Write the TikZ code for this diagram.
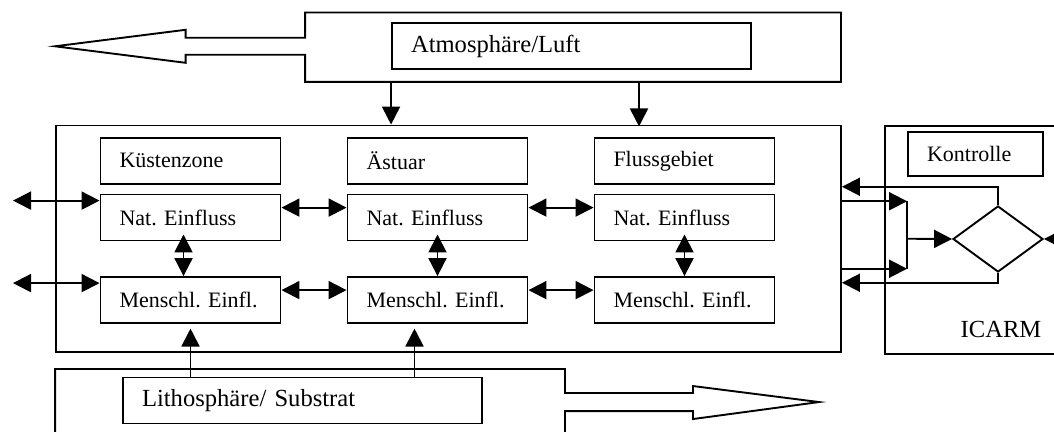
\documentclass[tikz,border=0pt]{standalone}
\usepackage{fontspec}
\setmainfont{Liberation Serif}
\usetikzlibrary{arrows.meta, positioning, shapes.geometric, calc}
\frenchspacing

\begin{document}
\begin{tikzpicture}[x=0.5pt,y=-0.5pt,line width=0.95pt,node distance=123.5pt,
                    frame/.style={draw,rectangle,inner sep=0pt},
                    zone node/.style={draw,rectangle,inner xsep=9.5pt,inner ysep=0pt,text width=71pt,
                                      minimum height=23pt,align=left,font=\fontsize{11}{13}\selectfont},
                    sphere node/.style={zone node,text width=160.5pt,font=\fontsize{12.3}{14}\selectfont},
                    arr/.style={-{Triangle[length=9pt,width=9pt]}},
                    dbl/.style={{Triangle[length=9pt,width=9pt]}-{Triangle[length=9pt,width=9pt]}}]

  \useasboundingbox (0,0) rectangle (1054,432);

  % Atmosphaere
  \node[inner sep=0pt,minimum width=267pt,minimum height=33.75pt] (atmo) at (573,47.25) {};
  \draw (atmo.north west) -- ++(0,25.25) -- ++(-119.5,0) -- ++(0,-8) -- ++(-130.5,16.5)
        -- ++(130.5,16.5) -- ++(0,-8) -- ++(119.5,0) -- (atmo.south west)
        -- (atmo.south east) -- (atmo.north east) -- cycle;
  \node[sphere node] (luft) at (571.5,46) {Atmosphäre/Luft};

  % Lithosphaere
  \node[inner sep=0pt,minimum width=254pt,minimum height=40pt] (litho) at (310,410) {};
  \draw (litho.south west) -- (litho.north west) -- (litho.north east) -- ++(0,24) -- ++(128,0)
        -- ++(0,-7) -- ++(126,16) -- ++(-126,17) -- ++(0,-8) -- ++(-128,0) -- (litho.south east);
  \node[sphere node] (substrat) at (302.5,400.5) {Lithosphäre/ Substrat};

  % Zonen
  \node[frame,minimum width=392.5pt,minimum height=113.25pt] (main) at (448.5,238.75) {};
  \node[zone node] (kueste) at (190.5,160.75) {Küstenzone};
  \node[zone node] (aestuar) [right of=kueste] {Ästuar};
  \node[zone node] (fluss) [right of=aestuar] {Flussgebiet};
  \node[zone node] (nat1) [below of=kueste,node distance=28.4pt] {Nat. Einfluss};
  \node[zone node] (nat2) [right of=nat1] {Nat. Einfluss};
  \node[zone node] (nat3) [right of=nat2] {Nat. Einfluss};
  \node[zone node] (mensch1) [below of=nat1,node distance=41.25pt] {Menschl. Einfl.};
  \node[zone node] (mensch2) [right of=mensch1] {Menschl. Einfl.};
  \node[zone node] (mensch3) [right of=mensch2] {Menschl. Einfl.};

  % ICARM
  \node[frame,minimum width=97.5pt,minimum height=114pt] (icarm) at (982.5,240) {};
  \node[zone node,text width=48.5pt,minimum height=22pt] (kontr) at (975.5,154) {Kontrolle};
  \node[diamond,draw,inner sep=0pt,minimum width=45pt,minimum height=33pt] (ctrl) at (998,239) {};
  \node[font=\fontsize{12.3}{14}\selectfont] (icarmlabel) at (1001,329) {ICARM};
  \coordinate (rand) at (13,0);
  \coordinate (offr) at (1090,239);

  \draw[arr] (luft.west |- atmo.south) -- (luft.west |- main.north);
  \draw[arr] ([xshift=33pt]atmo.south) -- ++(0,44.5);
  \draw[arr] (substrat.north -| mensch1) -- ++(0,-48);
  \draw[arr] ([xshift=56pt]substrat.north) -- ++(0,-48);

  \draw[dbl] ([yshift=-3.5pt]nat1.north west -| rand) -- ([yshift=-3.5pt]nat1.north west);
  \draw[dbl] ([yshift=-3.5pt]mensch1.north west -| rand) -- ([yshift=-3.5pt]mensch1.north west);
  \draw[dbl] ([yshift=-7pt]nat1.north east) -- ([yshift=-7pt]nat2.north west);
  \draw[dbl] ([yshift=-7pt]nat2.north east) -- ([yshift=-7pt]nat3.north west);
  \draw[dbl] ([yshift=-7pt]mensch1.north east) -- ([yshift=-7pt]mensch2.north west);
  \draw[dbl] ([yshift=-7pt]mensch2.north east) -- ([yshift=-7pt]mensch3.north west);
  \draw[dbl] ([shift={(-3.5pt,3.5pt)}]nat1.south) -- ([xshift=-3.5pt]mensch1.north);
  \draw[dbl] ([yshift=3.5pt]nat2.south) -- (mensch2.north);
  \draw[dbl] ([yshift=3.5pt]nat3.south) -- (mensch3.north);

  \draw[arr] ([yshift=18.75pt]main.east) -- ([yshift=18.75pt]main.east -| kontr.west);
  \draw[arr] ([yshift=-15pt]main.east) -- ([yshift=-15pt]main.east -| kontr.west);
  \draw ([yshift=18.75pt]main.east -| kontr.west) -- ([yshift=-15pt]main.east -| kontr.west);
  \draw[arr] (main.east -| kontr.west) -- (ctrl.west);
  \draw[arr] (ctrl.north) |- ([yshift=26pt]main.east);
  \draw[arr] (ctrl.south) |- ([yshift=-22pt]main.east);
  \draw[arr] (offr) -- (ctrl.east);
\end{tikzpicture}
\end{document}
